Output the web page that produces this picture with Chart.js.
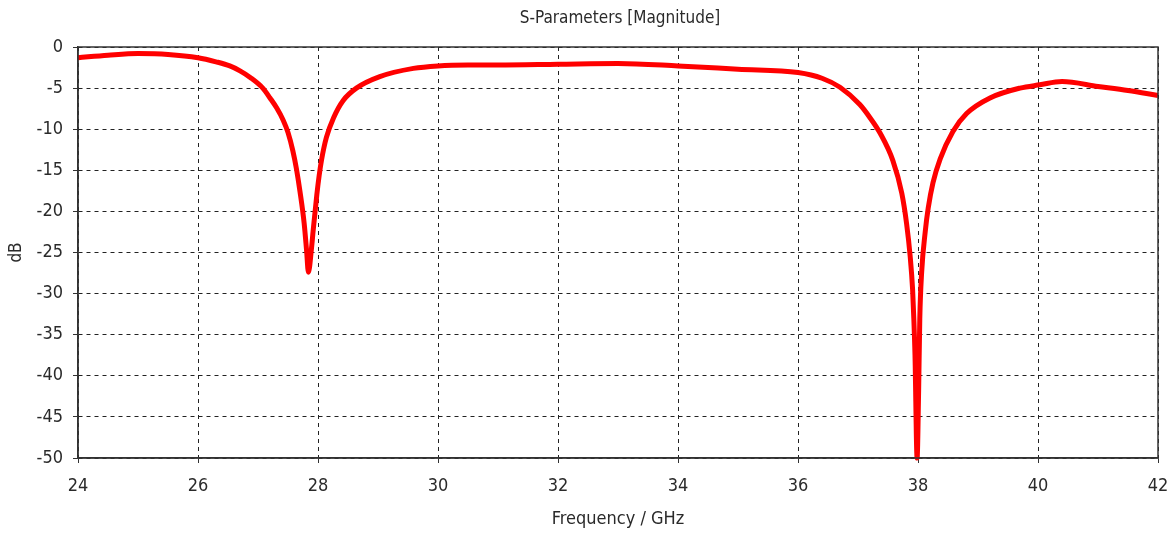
<!DOCTYPE html>
<html>
<head>
<meta charset="utf-8">
<script src="https://cdn.jsdelivr.net/npm/chart.js@4/dist/chart.umd.min.js"></script>
<style>
  html, body { margin: 0; padding: 0; background: #fff; }
  #wrap { width: 1174px; height: 535px; }
</style>
</head>
<body>
<div id="wrap"><canvas id="chart"></canvas></div>
<script>
// --- DATA ---
const freqGHz = [
  24.0, 24.5, 25.0, 25.5, 26.0, 26.3, 26.53, 26.7, 26.87, 27.08, 27.2, 27.31, 27.42, 27.5, 27.58, 27.64, 27.7, 27.77, 27.81, 27.84,
  27.89, 27.92, 27.98, 28.02, 28.06, 28.14, 28.26, 28.42, 28.64, 29.03, 29.59, 30.0, 30.5, 31.0, 32.0, 33.0, 34.0,
  35.0, 36.0, 36.4, 36.7, 37.03, 37.2, 37.37, 37.58, 37.73, 37.81, 37.87, 37.91, 37.93, 37.95, 37.985,
  38.01, 38.03, 38.06, 38.12, 38.17, 38.25, 38.37, 38.58, 38.81, 39.2, 39.7, 40.03, 40.4, 41.0, 41.5, 42.0
];
const s11dB = [
  -1.3, -1.0, -0.8, -0.9, -1.3, -1.8, -2.3, -2.9, -3.7, -5.0, -6.2, -7.4, -8.9, -10.4, -12.6, -14.8, -17.6, -21.5, -24.8, -27.4,
  -24.6, -22.3, -18.0, -15.6, -13.7, -11.0, -8.6, -6.5, -5.0, -3.6, -2.6, -2.3, -2.2, -2.2, -2.1, -2.0, -2.3,
  -2.7, -3.1, -3.8, -4.9, -7.0, -8.6, -10.5, -13.8, -17.8, -21.5, -25.5, -29.5, -33.0, -37.5, -50.0,
  -42.0, -33.0, -27.5, -22.5, -19.6, -16.5, -13.6, -10.3, -8.1, -6.2, -5.0, -4.6, -4.2, -4.8, -5.3, -5.9
];
const xTicks = [24, 26, 28, 30, 32, 34, 36, 38, 40, 42];
const yTicks = [0, -5, -10, -15, -20, -25, -30, -35, -40, -45, -50];
const chartTitle = 'S-Parameters [Magnitude]';

const FONT = '"Liberation Sans Narrow", "DejaVu Sans Condensed", "Liberation Sans", sans-serif';
const TEXT = '#2a2a2a';

// solid frame round the plot area + title centred over the plot
const frame = {
  id: 'frame',
  afterDatasetsDraw(chart) {
    const { ctx, chartArea: a } = chart;
    ctx.save();
    ctx.strokeStyle = '#333';
    ctx.lineWidth = 1.5;
    ctx.setLineDash([]);
    ctx.strokeRect(a.left, a.top, a.right - a.left, a.bottom - a.top);
    ctx.fillStyle = TEXT;
    ctx.font = '17px ' + FONT;
    ctx.textAlign = 'center';
    ctx.textBaseline = 'middle';
    ctx.fillText(chartTitle, (a.left + a.right) / 2 + 2, 19);
    ctx.restore();
  }
};

const grid = {
  color: '#222',
  lineWidth: 1,
  drawOnChartArea: true,
  drawTicks: true,
  tickLength: 5,
  tickColor: '#333',
  tickBorderDash: []
};

new Chart(document.getElementById('chart'), {
  type: 'line',
  data: {
    datasets: [{
      data: freqGHz.map((f, i) => ({ x: f, y: s11dB[i] })),
      borderColor: '#ff0000',
      borderWidth: 5,
      pointRadius: 0,
      fill: false,
      cubicInterpolationMode: 'monotone',
      clip: 3
    }]
  },
  options: {
    responsive: true,
    maintainAspectRatio: false,
    animation: false,
    layout: { padding: { left: 0, right: 16, top: 47, bottom: 0 } },
    plugins: {
      legend: { display: false },
      tooltip: { enabled: false },
      title: { display: false }
    },
    scales: {
      x: {
        type: 'linear',
        min: 24, max: 42,
        afterBuildTicks: s => { s.ticks = xTicks.map(v => ({ value: v })); },
        afterFit: s => { s.height = 77; s.paddingLeft = 0; s.paddingRight = 0; },
        grid: { ...grid },
        border: { display: true, color: '#333', width: 1.5, dash: [4, 4] },
        ticks: { color: TEXT, padding: 13, maxRotation: 0, font: { family: FONT, size: 18 } },
        title: {
          display: true, text: 'Frequency / GHz', color: TEXT,
          font: { family: FONT, size: 18 }, padding: { top: 0, bottom: 5 }
        }
      },
      y: {
        type: 'linear',
        min: -50, max: 0,
        afterBuildTicks: s => { s.ticks = yTicks.map(v => ({ value: v })); },
        afterFit: s => { s.width = 78; },
        grid: { ...grid },
        border: { display: true, color: '#333', width: 1.5, dash: [4, 4] },
        ticks: { color: TEXT, padding: 10, font: { family: FONT, size: 18 } },
        title: {
          display: true, text: 'dB', color: TEXT,
          font: { family: FONT, size: 17 }, padding: { top: 6, bottom: 0 }
        }
      }
    }
  },
  plugins: [frame]
});

// dashed gridlines
Chart.defaults.scale.grid.borderDash = [4, 4];
</script>
</body>
</html>
